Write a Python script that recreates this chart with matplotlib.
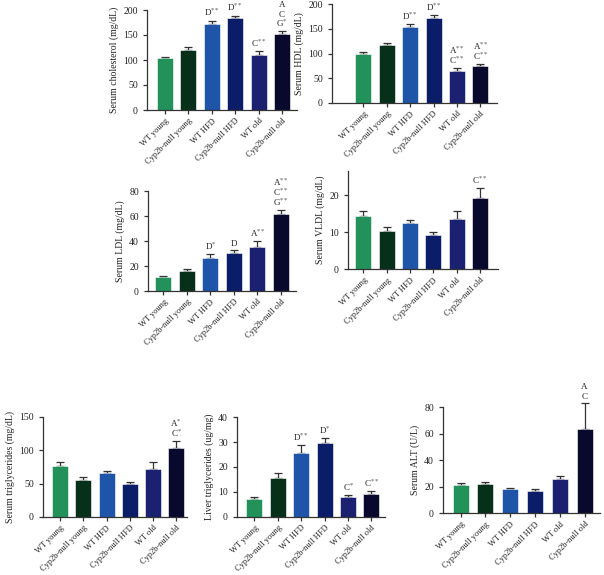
import matplotlib
matplotlib.use("Agg")
import matplotlib.pyplot as plt
import numpy as np

plt.rcParams['font.family'] = ['Liberation Serif', 'DejaVu Serif']
plt.rcParams['mathtext.fontset'] = 'stix'

groups = ["WT young", "Cyp2b-null young", "WT HFD", "Cyp2b-null HFD", "WT old", "Cyp2b-null old"]
colors = ["#22915a", "#06301a", "#1f55a8", "#0b1d68", "#1b2170", "#09092e"]

chol = [105, 120, 172, 185, 110, 152]
chol_err = [2, 7, 7, 4, 8, 6]
chol_ann = [[], [], ["D$^{**}$"], ["D$^{**}$"], ["C$^{**}$"], ["A", "C", "G$^{*}$"]]

hdl = [100, 117, 154, 171, 65, 75]
hdl_err = [3, 4, 6, 6, 5, 4]
hdl_ann = [[], [], ["D$^{**}$"], ["D$^{**}$"], ["A$^{**}$", "C$^{**}$"], ["A$^{**}$", "C$^{**}$"]]

ldl = [11.2, 16, 26.6, 30.6, 35.5, 61.6]
ldl_err = [1, 2, 3, 2, 4.5, 3.5]
ldl_ann = [[], [], ["D$^{*}$"], ["D"], ["A$^{**}$"], ["A$^{**}$", "C$^{**}$", "G$^{**}$"]]

vldl = [14.4, 10.2, 12.4, 9.3, 13.5, 19.3]
vldl_err = [1.4, 1.3, 0.9, 0.7, 2.3, 2.5]
vldl_ann = [[], [], [], [], [], ["C$^{**}$"]]

tg = [76.5, 55.5, 66, 50, 72, 103]
tg_err = [6.5, 5, 3.5, 3, 11, 11]
tg_ann = [[], [], [], [], [], ["A$^{*}$", "C$^{*}$"]]

ltg = [7, 15.4, 25.6, 29.6, 8.1, 9.3]
ltg_err = [0.8, 2, 3.2, 2, 0.5, 1.2]
ltg_ann = [[], [], ["D$^{**}$"], ["D$^{*}$"], ["C$^{*}$"], ["C$^{**}$"]]

alt = [21, 22, 18, 17, 26, 63.5]
alt_err = [2, 1.5, 1, 1.5, 2, 20]
alt_ann = [[], [], [], [], [], ["A", "C"]]

W, H = 604, 575
fig = plt.figure(figsize=(W / 100, H / 100), dpi=100)

# panel geometry in pixels: left, right, top, bottom, first bar centre, spacing
panels = [
    dict(v=chol, e=chol_err, a=chol_ann, lab="Serum cholesterol (mg/dL)", ymax=200, ticks=[0, 50, 100, 150, 200],
         px=(147, 297, 10, 110, 165, 23.4)),
    dict(v=hdl, e=hdl_err, a=hdl_ann, lab="Serum HDL (mg/dL)", ymax=200, ticks=[0, 50, 100, 150, 200],
         px=(332, 497, 4, 103, 363.3, 23.4)),
    dict(v=ldl, e=ldl_err, a=ldl_ann, lab="Serum LDL (mg/dL)", ymax=80, ticks=[0, 20, 40, 60, 80],
         px=(148, 296, 191, 291, 163.3, 23.5)),
    dict(v=vldl, e=vldl_err, a=vldl_ann, lab="Serum VLDL (mg/dL)", ymax=26.5, ticks=[0, 10, 20],
         px=(348, 498, 171, 269.3, 363.3, 23.3)),
    dict(v=tg, e=tg_err, a=tg_ann, lab="Serum triglycerides (mg/dL)", ymax=150, ticks=[0, 50, 100, 150],
         px=(43, 187, 417, 517, 60.2, 23.2)),
    dict(v=ltg, e=ltg_err, a=ltg_ann, lab="Liver triglycerides (ug/mg)", ymax=40, ticks=[0, 10, 20, 30, 40],
         px=(237, 385, 417.3, 516.7, 254.4, 23.4)),
    dict(v=alt, e=alt_err, a=alt_ann, lab="Serum ALT (U/L)", ymax=80, ticks=[0, 20, 40, 60, 80],
         px=(443, 600, 407.3, 513.3, 460.5, 24.8)),
]

axcol = "#333333"
for p in panels:
    l, r, t, b, c0, s = p["px"]
    ax = fig.add_axes([l / W, 1 - b / H, (r - l) / W, (b - t) / H])
    x = np.arange(len(groups))
    x0 = -(c0 - l) / s
    ax.set_xlim(x0, x0 + (r - l) / s)
    ax.set_ylim(0, p["ymax"])
    ax.bar(x, p["v"], width=16 / s, color=colors, edgecolor="white", linewidth=0.4, zorder=2)
    eb = ax.errorbar(x, p["v"], yerr=[np.zeros(len(x)), p["e"]], fmt="none", ecolor=axcol,
                     elinewidth=0.9, capsize=3.2, capthick=0.9, zorder=1)
    for art in eb.lines[1] + eb.lines[2]:
        art.set_clip_on(False)
    for i, lines in enumerate(p["a"]):
        top = p["v"][i] + p["e"][i]
        for k, txt in enumerate(reversed(lines)):
            ax.annotate(txt, (x[i], top), xytext=(0, 1.5 + 7.2 * k), textcoords="offset points",
                        ha="center", va="bottom", fontsize=6.5, color="#222222",
                        annotation_clip=False)
    for sp in ["top", "right"]:
        ax.spines[sp].set_visible(False)
    for sp in ["left", "bottom"]:
        ax.spines[sp].set_color(axcol)
        ax.spines[sp].set_linewidth(0.9)
    ax.set_yticks(p["ticks"])
    ax.set_xticks(x)
    ax.set_xticklabels(groups, rotation=45, ha="right", rotation_mode="anchor", fontsize=6.0)
    ax.tick_params(axis="both", colors=axcol, labelcolor="#222222", width=0.9, length=3)
    ax.tick_params(axis="x", pad=2)
    ax.tick_params(axis="y", labelsize=7)
    ax.set_ylabel(p["lab"], fontsize=7, color="#222222", labelpad=3)

fig.savefig("out.png", dpi=100)
